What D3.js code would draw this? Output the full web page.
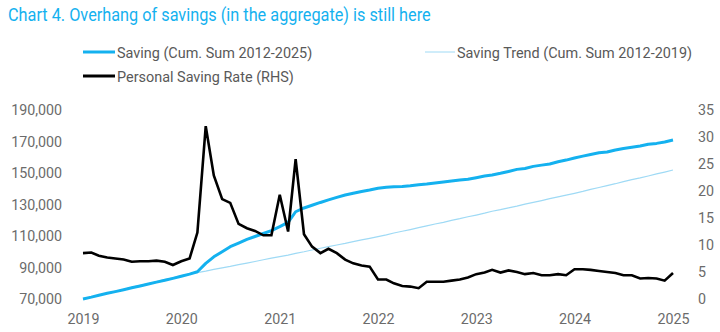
<!DOCTYPE html>
<html>
<head>
<meta charset="utf-8">
<script src="https://cdn.jsdelivr.net/npm/d3@7"></script>
<style>
  html, body { margin: 0; padding: 0; background: #fff; }
  svg { display: block; font-family: Roboto, "Noto Sans", sans-serif; }
</style>
</head>
<body>
<div id="chart"></div>
<script>
// Monthly series, Jan 2019 .. Jan 2025
const startMonth = new Date(2019, 0, 1);

const savingCum = [
    70000, 71200, 72400, 73600, 74700, 75900, 77100, 78300, 79500, 80700, 81900, 83100,
    84400, 85800, 87300, 92600, 96800, 100000, 103200, 105500, 107800, 109700, 111600, 113400,
    115900, 118600, 125400, 127800, 129500, 131300, 132900, 134500, 136000, 137100, 138300, 139200,
    140300, 140900, 141300, 141400, 141900, 142600, 143000, 143600, 144300, 144900, 145500, 146000,
    147000, 148100, 148700, 149800, 151000, 152300, 152900, 154200, 155000, 155700, 157100, 158200,
    159500, 160700, 161800, 162800, 163300, 164600, 165600, 166300, 167100, 168200, 168800, 169700,
    170900
];

const savingTrend = [
    70000, 71200, 72500, 73700, 74900, 76100, 77400, 78600, 79800, 81100, 82300, 83500,
    84800, 85700, 86800, 87700, 88800, 89800, 90700, 91800, 92800, 93800, 94900, 95900,
    96900, 97900, 99000, 100000, 101100, 102200, 103200, 104300, 105300, 106400, 107500, 108500,
    109600, 110700, 111900, 113000, 114100, 115300, 116400, 117600, 118700, 119900, 121000, 122200,
    123300, 124500, 125700, 126700, 127900, 129000, 130200, 131300, 132500, 133700, 134800, 135900,
    137100, 138300, 139600, 140800, 142000, 143200, 144500, 145800, 146900, 148100, 149400, 150600,
    151900
];

const savingRate = [
    8.5, 8.6, 8.0, 7.7, 7.5, 7.3, 6.9, 7.0, 7.0, 7.1, 6.9, 6.3,
    7.0, 7.5, 12.3, 32.0, 22.9, 18.5, 17.8, 13.9, 13.1, 12.6, 11.8, 11.8,
    19.3, 12.5, 25.9, 12.0, 9.7, 8.5, 9.3, 8.5, 7.3, 6.6, 6.2, 6.0,
    3.6, 3.6, 2.9, 2.4, 2.3, 2.0, 3.2, 3.2, 3.2, 3.4, 3.6, 4.0,
    4.6, 4.9, 5.4, 4.9, 5.3, 5.0, 4.6, 4.8, 4.4, 4.4, 4.6, 4.4,
    5.5, 5.5, 5.4, 5.2, 5.0, 4.8, 4.4, 4.4, 3.8, 3.9, 3.8, 3.4,
    4.8
];

const leftTicks = [70000, 90000, 110000, 130000, 150000, 170000, 190000];
const rightTicks = [0, 5, 10, 15, 20, 25, 30, 35];
const yearTicks = [2019, 2020, 2021, 2022, 2023, 2024, 2025];

const legendItems = [
    { label: 'Saving (Cum. Sum 2012-2025)', color: '#14b1ef', width: 3 },
    { label: 'Saving Trend (Cum. Sum 2012-2019)', color: '#9fdaf5', width: 1 },
    { label: 'Personal Saving Rate (RHS)', color: '#000', width: 3 }
];

const width = 720;
const height = 332;
const plot = { left: 83, right: 673, top: 110, bottom: 299 };

// squeeze text horizontally, the chart uses a condensed face
function condense(sel, k) {
    sel.each(function () {
        const len = this.getComputedTextLength();
        d3.select(this)
            .attr('textLength', len * k)
            .attr('lengthAdjust', 'spacingAndGlyphs');
    });
}

const svg = d3.select('#chart')
    .append('svg')
    .attr('width', width)
    .attr('height', height);

const dates = savingCum.map((d, i) => d3.timeMonth.offset(startMonth, i));

const x = d3.scaleTime()
    .domain([new Date(2019, 0, 1), new Date(2025, 0, 1)])
    .range([plot.left, plot.right]);

const yLeft = d3.scaleLinear()
    .domain([70000, 190000])
    .range([plot.bottom, plot.top]);

const yRight = d3.scaleLinear()
    .domain([0, 35])
    .range([plot.bottom, plot.top]);

// Title
svg.append('text')
    .attr('x', 8)
    .attr('y', 21)
    .attr('fill', '#14b1ef')
    .style('font-size', '17.5px')
    .text('Chart 4. Overhang of savings (in the aggregate) is still here')
    .call(condense, 0.93);

// Legend
const legendPos = [[83, 52], [425, 52], [83, 76]];
legendItems.forEach((item, i) => {
    const [lx, ly] = legendPos[i];
    const g = svg.append('g').attr('transform', `translate(${lx},${ly})`);
    g.append('line')
        .attr('x1', 0).attr('x2', i === 1 ? 30 : 32)
        .attr('y1', 0).attr('y2', 0)
        .attr('stroke', item.color)
        .attr('stroke-width', item.width);
    g.append('text')
        .attr('x', i === 1 ? 32 : 34)
        .attr('y', 5.5)
        .attr('fill', '#595959')
        .style('font-size', '15.5px')
        .text(item.label)
        .call(condense, 0.93);
});

// Axes (labels only)
const fmt = d3.format(',');

const axLeft = svg.append('g')
    .attr('transform', `translate(${plot.left},0)`)
    .call(d3.axisLeft(yLeft).tickValues(leftTicks).tickFormat(fmt).tickSize(0).tickPadding(21));

const axRight = svg.append('g')
    .attr('transform', `translate(${plot.right},0)`)
    .call(d3.axisRight(yRight).tickValues(rightTicks).tickSize(0).tickPadding(25));

const axBottom = svg.append('g')
    .attr('transform', `translate(0,${plot.bottom})`)
    .call(d3.axisBottom(x)
        .tickValues(yearTicks.map(y => new Date(y, 0, 1)))
        .tickFormat(d3.timeFormat('%Y'))
        .tickSize(0).tickPadding(14));

[axLeft, axRight, axBottom].forEach(ax => {
    ax.select('.domain').remove();
    ax.selectAll('text')
        .attr('fill', '#6b6b6b')
        .style('font-family', 'Roboto, sans-serif')
        .style('font-size', '15px')
        .call(condense, 0.95);
});

// Lines
const lineLeft = d3.line()
    .x((d, i) => x(dates[i]))
    .y(d => yLeft(d));

const lineRight = d3.line()
    .x((d, i) => x(dates[i]))
    .y(d => yRight(d));

svg.append('path')
    .datum(savingTrend)
    .attr('d', lineLeft)
    .attr('fill', 'none')
    .attr('stroke', legendItems[1].color)
    .attr('stroke-width', 1.2);

svg.append('path')
    .datum(savingCum)
    .attr('d', lineLeft)
    .attr('fill', 'none')
    .attr('stroke', legendItems[0].color)
    .attr('stroke-width', 3)
    .attr('stroke-linejoin', 'round');

svg.append('path')
    .datum(savingRate)
    .attr('d', lineRight)
    .attr('fill', 'none')
    .attr('stroke', '#000')
    .attr('stroke-width', 2.6)
    .attr('stroke-linejoin', 'miter');
</script>
</body>
</html>
